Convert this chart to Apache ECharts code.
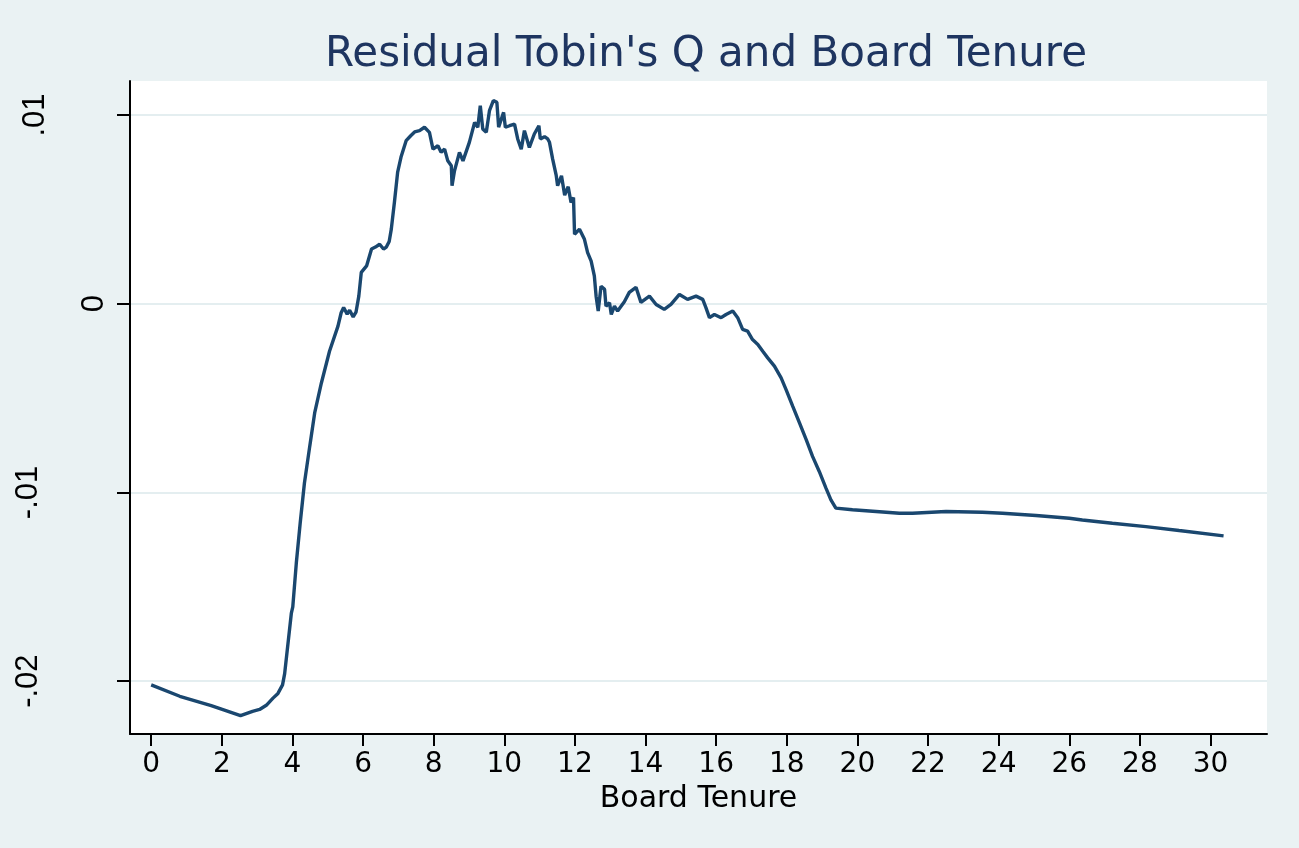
<!DOCTYPE html>
<html>
<head>
<meta charset="utf-8">
<script src="https://cdn.jsdelivr.net/npm/echarts@6/dist/echarts.min.js"></script>
<style>
  html, body { margin: 0; padding: 0; background: #eaf2f3; }
  #chart { width: 1299px; height: 848px; }
</style>
</head>
<body>
<div id="chart"></div>
<script>
// board tenure (years) and residual Tobin's Q
var tenure = [
  0.00, 0.81, 1.70, 2.53, 2.87, 3.07, 3.26, 3.45, 3.59, 3.72, 3.78, 3.97, 4.01, 4.11, 4.22, 4.34,
  4.49, 4.63, 4.82, 5.05, 5.29, 5.38, 5.45, 5.55, 5.62, 5.72, 5.80, 5.88, 5.95, 6.10, 6.24, 6.35,
  6.47, 6.58, 6.66, 6.74, 6.80, 6.89, 6.98, 7.08, 7.22, 7.35,
  7.46, 7.60, 7.74, 7.88, 7.98, 8.12, 8.21, 8.31, 8.40, 8.50,
  8.52, 8.59, 8.73, 8.83, 9.01, 9.16, 9.25, 9.32, 9.39, 9.49,
  9.58, 9.69, 9.79, 9.84, 9.98, 10.03, 10.15, 10.29, 10.38, 10.48,
  10.57, 10.71, 10.85, 10.98, 11.02, 11.14, 11.23, 11.28, 11.37, 11.47,
  11.51, 11.62, 11.71, 11.81, 11.89, 11.96, 11.99, 12.13, 12.27, 12.36,
  12.46, 12.55, 12.60, 12.66, 12.74, 12.84, 12.88, 12.98, 13.03, 13.12, 13.21,
  13.40, 13.54, 13.73, 13.87, 14.11, 14.30, 14.53, 14.72,
  14.96, 15.19, 15.43, 15.62, 15.71, 15.81, 15.95,
  16.14, 16.28, 16.47, 16.61, 16.75, 16.89, 17.03,
  17.18, 17.32, 17.46, 17.65, 17.84, 17.98,
  18.17, 18.36, 18.55, 18.73, 18.92, 19.11, 19.25, 19.39,
  19.86, 20.53, 21.19, 21.56, 22.51,
  23.54, 24.11, 25.06, 26.00, 26.37,
  27.22, 28.17, 29.11, 30.37
];
var residual = [
  -0.02020, -0.02080, -0.02130, -0.02183, -0.02160, -0.02150, -0.02128, -0.02090, -0.02065, -0.02020, -0.01960, -0.01639, -0.01606, -0.01374, -0.01162, -0.00950,
  -0.00756, -0.00579, -0.00420, -0.00252, -0.00119, -0.00048, -0.00020, -0.00055, -0.00035, -0.00070, -0.00045, 0.00040, 0.00166, 0.00200, 0.00290, 0.00300,
  0.00315, 0.00290, 0.00300, 0.00330, 0.00395, 0.00540, 0.00697, 0.00780, 0.00864, 0.00890,
  0.00910, 0.00917, 0.00935, 0.00908, 0.00819, 0.00837, 0.00802, 0.00819, 0.00757, 0.00731,
  0.00625, 0.00704, 0.00802, 0.00757, 0.00855, 0.00961, 0.00935, 0.01049, 0.00926, 0.00908,
  0.01023, 0.01076, 0.01067, 0.00935, 0.01014, 0.00935, 0.00943, 0.00952, 0.00873, 0.00819,
  0.00917, 0.00828, 0.00899, 0.00943, 0.00873, 0.00885, 0.00873, 0.00855, 0.00766, 0.00680,
  0.00625, 0.00678, 0.00575, 0.00620, 0.00536, 0.00563, 0.00368, 0.00395, 0.00341, 0.00271,
  0.00226, 0.00147, 0.00040, -0.00039, 0.00093, 0.00076, -0.00013, 0.00005, -0.00057, -0.00013, -0.00039,
  0.00010, 0.00060, 0.00087, 0.00007, 0.00040, -0.00004, -0.00030, -0.00004,
  0.00049, 0.00023, 0.00040, 0.00023, -0.00021, -0.00074, -0.00057,
  -0.00074, -0.00057, -0.00039, -0.00074, -0.00136, -0.00145, -0.00190,
  -0.00216, -0.00252, -0.00287, -0.00331, -0.00393, -0.00455,
  -0.00544, -0.00632, -0.00720, -0.00809, -0.00889, -0.00977, -0.01039, -0.01083,
  -0.01092, -0.01101, -0.01110, -0.01110, -0.01101,
  -0.01105, -0.01110, -0.01122, -0.01137, -0.01146,
  -0.01163, -0.01181, -0.01202, -0.01230
];
var xTicks = [0, 2, 4, 6, 8, 10, 12, 14, 16, 18, 20, 22, 24, 26, 28, 30];
var yTicks = [-0.02, -0.01, 0, 0.01];
var yLabelText = { '-0.02': '-.02', '-0.01': '-.01', '0': '0', '0.01': '.01' };

var chart = echarts.init(document.getElementById('chart'));

var points = [];
for (var i = 0; i < tenure.length; i++) {
  points.push([tenure[i], residual[i]]);
}

var yMin = -0.0228, yMax = 0.0118;

// the extra y axes only carry labels (Stata offsets them differently)
function labelAxis(values, margin) {
  return {
    type: 'value',
    position: 'left',
    min: yMin,
    max: yMax,
    axisLine: { show: false },
    axisTick: { show: false, customValues: values },
    splitLine: { show: false },
    axisLabel: {
      customValues: values,
      rotate: 90,
      margin: margin,
      color: '#000',
      fontFamily: 'Liberation Sans',
      fontSize: 31,
      formatter: function (v) { return yLabelText[String(+v.toFixed(2))]; }
    }
  };
}

var option = {
  backgroundColor: '#eaf2f3',
  animation: false,
  title: {
    text: "Residual Tobin's Q and Board Tenure",
    left: 320,
    top: 29,
    textStyle: {
      color: '#1e3560',
      fontFamily: 'DejaVu Sans',
      fontWeight: 'normal',
      fontSize: 42
    }
  },
  grid: {
    left: 130,
    right: 32,
    top: 81,
    bottom: 114,
    show: true,
    backgroundColor: '#ffffff',
    borderWidth: 0
  },
  xAxis: {
    type: 'value',
    min: -0.6,
    max: 31.6,
    name: 'Board Tenure',
    nameLocation: 'middle',
    nameGap: 46,
    nameTextStyle: { color: '#000', fontFamily: 'DejaVu Sans', fontSize: 30 },
    axisLine: { show: true, onZero: false, lineStyle: { color: '#000', width: 2 } },
    axisTick: { show: true, length: 12, customValues: xTicks, lineStyle: { color: '#000', width: 2 } },
    axisLabel: { customValues: xTicks, margin: 17, color: '#000', fontFamily: 'DejaVu Sans', fontSize: 28 },
    splitLine: { show: false }
  },
  yAxis: [
    {
      type: 'value',
      position: 'left',
      min: yMin,
      max: yMax,
      axisLine: { show: true, onZero: false, lineStyle: { color: '#000', width: 2 } },
      axisTick: { show: true, length: 13, customValues: yTicks, lineStyle: { color: '#000', width: 2 } },
      axisLabel: { show: false },
      splitLine: { show: true, lineStyle: { color: '#e4eef0', width: 2 } }
    },
    labelAxis([-0.02, -0.01], 86),
    labelAxis([0.01], 79),
    labelAxis([0], 20)
  ],
  series: [
    {
      type: 'line',
      data: points,
      showSymbol: false,
      lineStyle: { color: '#1a476f', width: 3.4 },
      silent: true
    }
  ]
};

chart.setOption(option);
</script>
</body>
</html>
